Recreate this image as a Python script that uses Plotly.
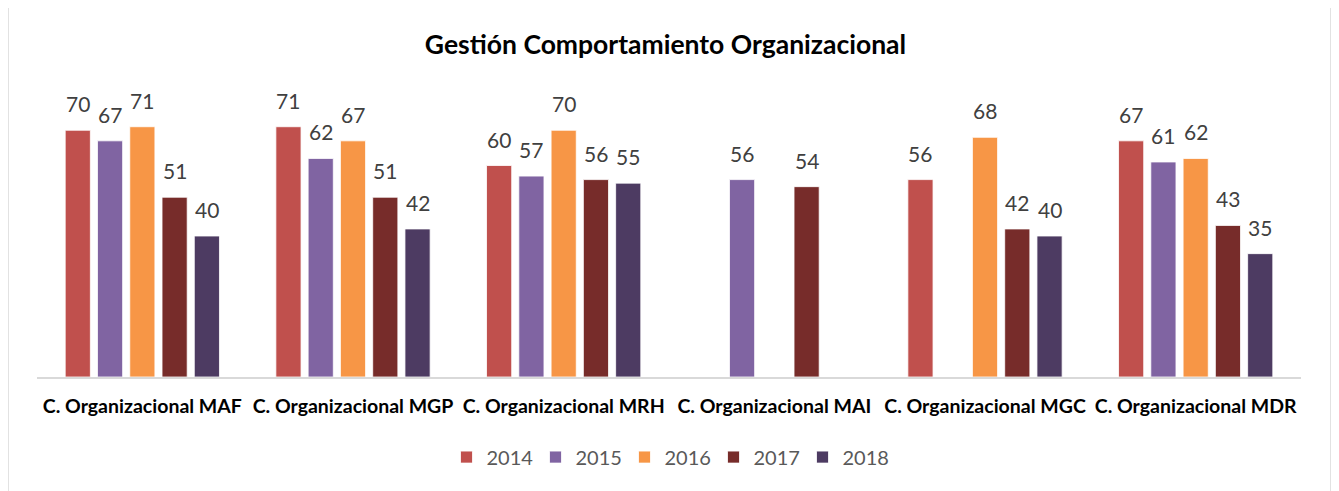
import plotly.graph_objects as go

categories = [
    "C. Organizacional MAF",
    "C. Organizacional MGP",
    "C. Organizacional MRH",
    "C. Organizacional MAI",
    "C. Organizacional MGC",
    "C. Organizacional MDR",
]
years = ["2014", "2015", "2016", "2017", "2018"]
v2014 = [70, 71, 60, None, 56, 67]
v2015 = [67, 62, 57, 56, None, 61]
v2016 = [71, 67, 70, None, 68, 62]
v2017 = [51, 51, 56, 54, 42, 43]
v2018 = [40, 42, 55, None, 40, 35]
series = [v2014, v2015, v2016, v2017, v2018]
colors = ["#C0504D", "#8064A2", "#F79646", "#772C2A", "#4D3B62"]

# page body has an 8px margin, so the figure is a bit smaller than the window
W, H = 1331, 483
ML, MR, MT, MB = 29, 38, 87, 114
BARGAP = 0.234
FONT = "Lato"

fig = go.Figure()
for name, vals, col in zip(years, series, colors):
    fig.add_trace(go.Bar(
        name=name, x=categories, y=vals,
        marker=dict(color=col, line=dict(color="white", width=0.8)),
        hoverinfo="x+y+name",
    ))

# data labels above bars
cat_px = (W - ML - MR) / len(categories)
slot = (1 - BARGAP) * cat_px / len(years)
annotations = []
for i, vals in enumerate(series):
    for cat, v in zip(categories, vals):
        if v is None:
            continue
        annotations.append(dict(
            x=cat, y=v, text=str(v), showarrow=False,
            xshift=(i - 2) * slot, yshift=12, yanchor="bottom",
            font=dict(family=FONT, size=21, color="#404040"),
        ))

fig.update_layout(
    width=W, height=H,
    margin=dict(l=ML, r=MR, t=MT, b=MB),
    paper_bgcolor="white", plot_bgcolor="white",
    barmode="group", bargap=BARGAP, bargroupgap=0.22,
    title=dict(
        text="<b>Gestión Comportamiento Organizacional</b>",
        x=0.494, xanchor="center", y=1 - 37 / H, yanchor="middle",
        font=dict(family=FONT, size=26.5, color="#000000"),
    ),
    font=dict(family=FONT),
    annotations=annotations,
    legend=dict(
        orientation="h", x=0.5, xanchor="center", y=-0.284, yanchor="middle",
        font=dict(family=FONT, size=20, color="#595959"),
        entrywidth=44, entrywidthmode="pixels", itemwidth=30,
        traceorder="normal",
    ),
    shapes=[dict(
        type="rect", xref="paper", yref="paper",
        x0=(0 - ML) / (W - ML - MR), x1=(1323 - ML) / (W - ML - MR),
        y0=-0.45, y1=(H - MB + 2) / (H - MT - MB),
        line=dict(color="#D9D9D9", width=1.5), fillcolor="rgba(0,0,0,0)",
        layer="below",
    )],
)
fig.update_xaxes(
    showline=True, linecolor="#D9D9D9", linewidth=1.5,
    showgrid=False, ticks="", ticklabelstandoff=11,
    tickfont=dict(family=FONT, size=19.5, color="#000000", weight="bold"),
)
fig.update_yaxes(range=[0, 80], visible=False, showgrid=False)

fig.write_html("out.html")
